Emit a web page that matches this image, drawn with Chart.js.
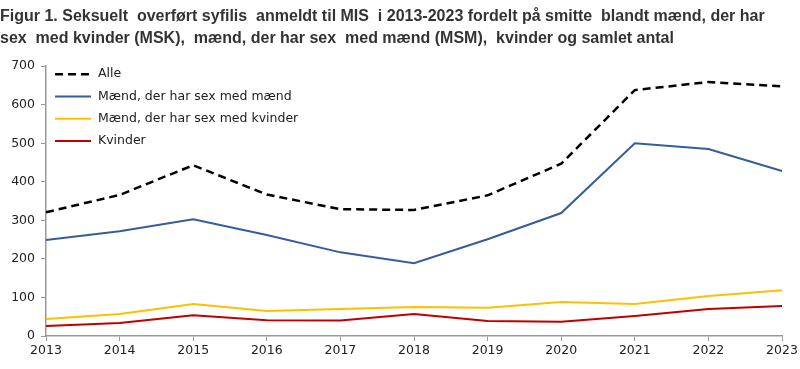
<!DOCTYPE html>
<html><head><meta charset="utf-8">
<script src="https://cdn.jsdelivr.net/npm/chart.js@4/dist/chart.umd.min.js"></script>
<style>html,body{margin:0;padding:0;background:#fff}#wrap{width:800px;height:369px}</style>
</head><body><div id="wrap"><canvas id="c" width="800" height="369"></canvas></div>
<script>
const years = ['2013','2014','2015','2016','2017','2018','2019','2020','2021','2022','2023'];
const alle = [321,366,443,367,329,327,365,447,638,659,648];
const msm = [249,272,303,262,217,189,251,319,500,485,428];
const msk = [44,57,83,65,70,75,73,88,83,104,119];
const kvinder = [26,34,54,41,40,57,39,37,52,70,78];
const yTicks = [0,100,200,300,400,500,600,700];
const titleLines = ['Figur 1. Seksuelt  overført syfilis  anmeldt til MIS  i 2013-2023 fordelt på smitte  blandt mænd, der har',
                    'sex  med kvinder (MSK),  mænd, der har sex  med mænd (MSM),  kvinder og samlet antal'];
const seriesNames = ['Alle','Mænd, der har sex med mænd','Mænd, der har sex med kvinder','Kvinder'];

const FONT = "'DejaVu Sans', sans-serif";

const legendPlugin = {
  id: 'innerLegend',
  afterDraw(chart) {
    const ctx = chart.ctx;
    const a = chart.chartArea;
    ctx.save();
    ctx.font = "12.5px " + FONT;
    ctx.textBaseline = 'middle';
    chart.data.datasets.forEach((ds, i) => {
      const y = a.top + 8 + i * 22.3;
      ctx.beginPath();
      ctx.strokeStyle = ds.borderColor;
      ctx.lineWidth = ds.borderWidth;
      ctx.setLineDash(ds.borderDash || []);
      ctx.moveTo(a.left + 9, y);
      ctx.lineTo(a.left + 45, y);
      ctx.stroke();
      ctx.setLineDash([]);
      ctx.fillStyle = '#222';
      ctx.fillText(ds.label, a.left + 52, y);
    });
    ctx.restore();
  }
};

new Chart(document.getElementById('c'), {
  type: 'line',
  data: {
    labels: years,
    datasets: [
      {label: seriesNames[0], data: alle, borderColor: '#000', borderWidth: 2.5, borderDash: [8,5], pointRadius: 0, tension: 0},
      {label: seriesNames[1], data: msm, borderColor: '#355D9C', borderWidth: 2, pointRadius: 0, tension: 0},
      {label: seriesNames[2], data: msk, borderColor: '#FFC000', borderWidth: 2, pointRadius: 0, tension: 0},
      {label: seriesNames[3], data: kvinder, borderColor: '#C00000', borderWidth: 2, pointRadius: 0, tension: 0}
    ]
  },
  options: {
    responsive: false,
    animation: false,
    layout: {padding: {left: 0, right: 18, top: 0, bottom: 0}},
    plugins: {
      legend: {display: false},
      tooltip: {enabled: false},
      title: {
        display: true, text: titleLines, align: 'start', color: '#333',
        font: {family: "'Liberation Sans Narrow', 'Liberation Sans', sans-serif", size: 16, weight: 'bold', lineHeight: 1.35},
        padding: {top: 6, bottom: 17}
      }
    },
    scales: {
      x: {
        type: 'category', offset: false,
        grid: {display: true, drawOnChartArea: false, drawTicks: true, tickLength: 5, color: '#999'},
        border: {color: '#999', width: 1.5},
        ticks: {color: '#222', font: {family: FONT, size: 12.5}, maxRotation: 0, autoSkip: false, padding: 2},
        afterFit(s) { s.height = 33; }
      },
      y: {
        min: 0, max: 700,
        afterBuildTicks(s) { s.ticks = yTicks.map(v => ({value: v})); },
        grid: {display: true, drawOnChartArea: false, drawTicks: true, tickLength: 5, color: '#999'},
        border: {color: '#999', width: 1.5},
        ticks: {color: '#222', font: {family: FONT, size: 12.5}, padding: 6},
        afterFit(s) { s.width = 46; }
      }
    }
  },
  plugins: [legendPlugin]
});
</script></body></html>
